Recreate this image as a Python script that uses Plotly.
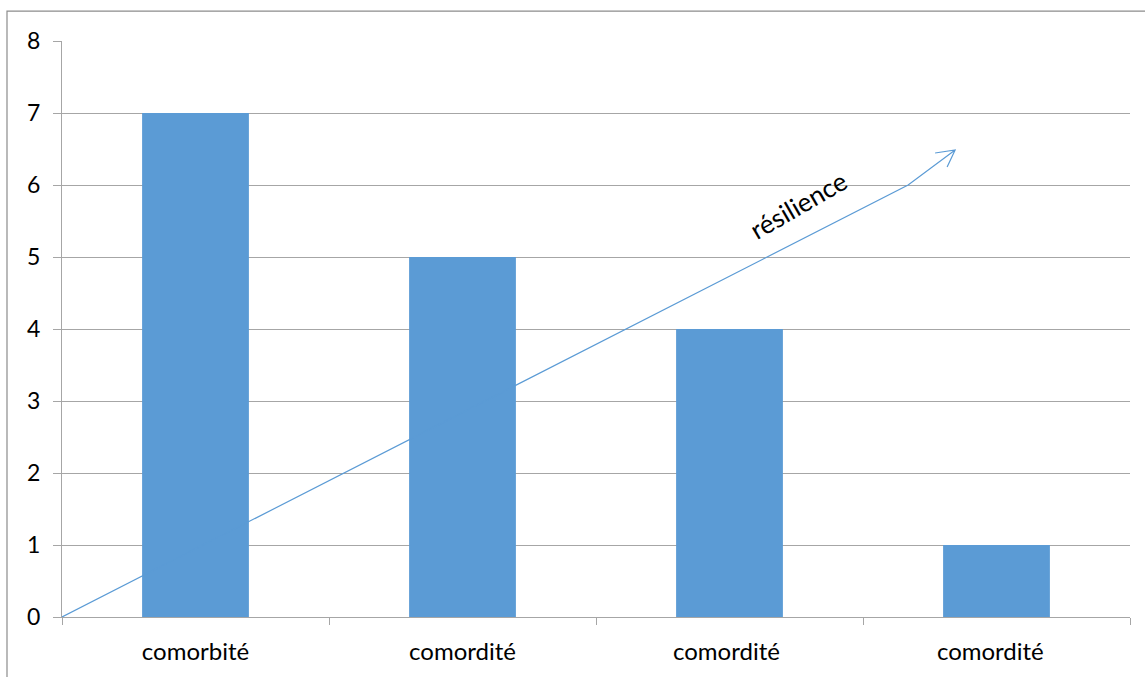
import plotly.graph_objects as go

# Categories and bar heights
categories = ["comorbité", "comordité", "comordité ", "comordité  "]
values = [7, 5, 4, 1]
y_ticks = [0, 1, 2, 3, 4, 5, 6, 7, 8]

bar_color = "#5b9bd5"
grid_color = "#a6a6a6"
font_family = "Lato, 'Open Sans', sans-serif"

fig = go.Figure(
    go.Bar(x=categories, y=values, marker=dict(color=bar_color, line=dict(width=0)))
)

# Trend arrow labelled "résilience" (drawn in axis units)
px_x = 1068 / 4      # pixels per category
px_y = 576 / 8       # pixels per unit on y
start = (-0.5, 0.0)
bend = (2.669, 6.0)
tip = (2.845, 6.486)
arm1 = (tip[0] - 20 / px_x, tip[1] - 3 / px_y)
arm2 = (tip[0] - 8 / px_x, tip[1] - 17 / px_y)

path = (
    f"M {start[0]},{start[1]} L {bend[0]},{bend[1]} L {tip[0]},{tip[1]} "
    f"M {arm1[0]},{arm1[1]} L {tip[0]},{tip[1]} L {arm2[0]},{arm2[1]}"
)
fig.add_shape(type="path", xref="x", yref="y", path=path,
              line=dict(color=bar_color, width=1.2), layer="above")

fig.add_annotation(x=2.257, y=5.72, xref="x", yref="y", text="résilience",
                   showarrow=False, textangle=-30,
                   font=dict(family=font_family, size=26, color="black"))

# Outer chart frame
fig.add_shape(type="rect", xref="paper", yref="paper",
              x0=-0.0515, x1=1.05, y0=-0.2, y1=1.052,
              line=dict(color="#8c8c8c", width=1.2), layer="below")

fig.update_layout(
    width=1145, height=677,
    margin=dict(l=62, r=15, t=41, b=60),
    paper_bgcolor="white", plot_bgcolor="white",
    bargap=0.6,
    showlegend=False,
    font=dict(family=font_family, size=23, color="black"),
    xaxis=dict(
        type="category", showgrid=False, showline=True, linecolor=grid_color,
        linewidth=1.2, ticks="outside", tickson="boundaries", ticklen=7,
        tickcolor=grid_color, tickfont=dict(size=24), ticklabelstandoff=13,
        range=[-0.5, 3.5],
    ),
    yaxis=dict(
        range=[0, 8], tickvals=y_ticks, showgrid=True, gridcolor=grid_color,
        gridwidth=1.2, showline=True, linecolor=grid_color, linewidth=1.2,
        ticks="outside", ticklen=8, tickcolor=grid_color, zeroline=False,
        tickfont=dict(size=23), ticklabelstandoff=8,
    ),
)

fig.write_html("out.html")
